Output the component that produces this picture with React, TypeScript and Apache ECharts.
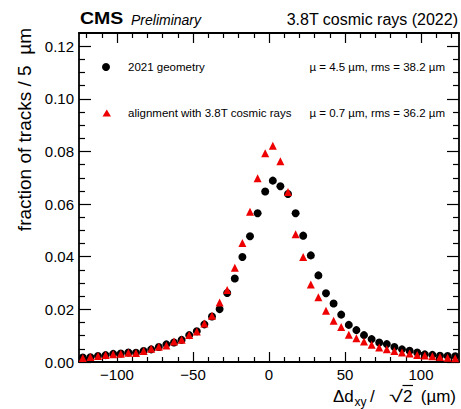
import React, { useEffect, useRef } from "react";
import * as echarts from "echarts";

const FONT = "'Liberation Sans', Arial, Helvetica, sans-serif";

// bin centres of Δd_xy/√2 (µm), 5 µm bins
const binCenters = [
  -122.5, -117.5, -112.5, -107.5, -102.5, -97.5, -92.5, -87.5, -82.5, -77.5,
  -72.5, -67.5, -62.5, -57.5, -52.5, -47.5, -42.5, -37.5, -32.5, -27.5,
  -22.5, -17.5, -12.5, -7.5, -2.5, 2.5, 7.5, 12.5, 17.5, 22.5,
  27.5, 32.5, 37.5, 42.5, 47.5, 52.5, 57.5, 62.5, 67.5, 72.5,
  77.5, 82.5, 87.5, 92.5, 97.5, 102.5, 107.5, 112.5, 117.5, 122.5,
];

// fraction of tracks, 2021 geometry (black circles)
const geometry2021 = [
  0.0017, 0.0018, 0.0023, 0.0026, 0.0031, 0.0032, 0.0036, 0.0035, 0.0042, 0.0048,
  0.0057, 0.0067, 0.0074, 0.0084, 0.0102, 0.0117, 0.0143, 0.0173, 0.0201, 0.0262,
  0.0317, 0.0399, 0.0478, 0.0565, 0.0648, 0.0689, 0.0668, 0.0638, 0.0565, 0.0480,
  0.0405, 0.0329, 0.0261, 0.0222, 0.0180, 0.0141, 0.0121, 0.0102, 0.0087, 0.0074,
  0.0068, 0.0057, 0.0048, 0.0043, 0.0036, 0.0029, 0.0027, 0.0024, 0.0023, 0.0022,
];

// fraction of tracks, alignment with 3.8T cosmic rays (red triangles)
const alignmentCosmics = [
  0.0015, 0.0019, 0.0023, 0.0027, 0.0029, 0.0031, 0.0035, 0.0034, 0.0042, 0.0050,
  0.0058, 0.0063, 0.0078, 0.0085, 0.0103, 0.0116, 0.0146, 0.0176, 0.0226, 0.0274,
  0.0358, 0.0452, 0.0571, 0.0698, 0.0793, 0.0822, 0.0763, 0.0646, 0.0485, 0.0399,
  0.0294, 0.0246, 0.0195, 0.0157, 0.0133, 0.0104, 0.0090, 0.0078, 0.0066, 0.0055,
  0.0048, 0.0042, 0.0036, 0.0032, 0.0027, 0.0025, 0.0022, 0.0019, 0.0016, 0.0014,
];

const seriesNames = ["2021 geometry", "alignment with 3.8T cosmic rays"];
const seriesStats = ["\u00b5 = 4.5 \u00b5m, rms = 38.2 \u00b5m", "\u00b5 = 0.7 \u00b5m, rms = 36.2 \u00b5m"];

const xMajorTicks = [-100, -50, 0, 50, 100];
const xMinorTicks = [-120, -110, -90, -80, -70, -60, -40, -30, -20, -10, 10, 20, 30, 40, 60, 70, 80, 90, 110, 120];
const yMajorTicks = [0, 0.02, 0.04, 0.06, 0.08, 0.1, 0.12];
const yMinorTicks = [
  0.005, 0.01, 0.015, 0.025, 0.03, 0.035, 0.045, 0.05, 0.055, 0.065, 0.07, 0.075,
  0.085, 0.09, 0.095, 0.105, 0.11, 0.115,
];

const X_MIN = -125;
const X_MAX = 125;
const Y_MIN = 0;
const Y_MAX = 0.125;

const GRID = { left: 79, right: 2, top: 33, bottom: 47 };

function xAxisDef(gridIndex: number, position: string, ticks: number[], len: number, labels: boolean, line: boolean) {
  return {
    type: "value",
    gridIndex,
    position,
    min: X_MIN,
    max: X_MAX,
    splitLine: { show: false },
    axisLine: { show: line, onZero: false, lineStyle: { color: "#000", width: 1.8 } },
    axisTick: { show: true, inside: true, length: len, customValues: ticks, lineStyle: { color: "#000", width: 1.2 } },
    minorTick: { show: false },
    axisLabel: labels
      ? {
          show: true,
          customValues: xMajorTicks,
          color: "#000",
          fontFamily: FONT,
          fontSize: 15,
          margin: 5,
          formatter: (v: number) => (v < 0 ? "\u2212" + Math.abs(v) : String(v)),
        }
      : { show: false },
  };
}

function yAxisDef(gridIndex: number, position: string, ticks: number[], len: number, labels: boolean, line: boolean) {
  return {
    type: "value",
    gridIndex,
    position,
    min: Y_MIN,
    max: Y_MAX,
    splitLine: { show: false },
    axisLine: { show: line, onZero: false, lineStyle: { color: "#000", width: 1.8 } },
    axisTick: { show: true, inside: true, length: len, customValues: ticks, lineStyle: { color: "#000", width: 1.2 } },
    minorTick: { show: false },
    axisLabel: labels
      ? {
          show: true,
          customValues: yMajorTicks,
          color: "#000",
          fontFamily: FONT,
          fontSize: 15,
          margin: 5,
          formatter: (v: number) => v.toFixed(2),
        }
      : { show: false },
  };
}

export default function App() {
  const ref = useRef<HTMLDivElement>(null);

  useEffect(() => {
    if (!ref.current) return;
    const chart = echarts.init(ref.current, null, { renderer: "svg" });

    const option: any = {
      animation: false,
      backgroundColor: "#fff",
      grid: [
        { ...GRID, containLabel: false },
        { ...GRID, containLabel: false },
      ],
      xAxis: [
        xAxisDef(0, "bottom", xMajorTicks, 10, true, true),
        xAxisDef(0, "top", xMajorTicks, 10, false, true),
        xAxisDef(1, "bottom", xMinorTicks, 5, false, false),
        xAxisDef(1, "top", xMinorTicks, 5, false, false),
      ],
      yAxis: [
        yAxisDef(0, "left", yMajorTicks, 12, true, true),
        yAxisDef(0, "right", yMajorTicks, 12, false, true),
        yAxisDef(1, "left", yMinorTicks, 6, false, false),
        yAxisDef(1, "right", yMinorTicks, 6, false, false),
      ],
      series: [
        {
          name: seriesNames[0],
          type: "scatter",
          xAxisIndex: 0,
          yAxisIndex: 0,
          symbol: "circle",
          symbolSize: 8,
          itemStyle: { color: "#000", opacity: 1 },
          data: binCenters.map((x, i) => [x, geometry2021[i]]),
          z: 3,
        },
        {
          name: seriesNames[1],
          type: "scatter",
          xAxisIndex: 0,
          yAxisIndex: 0,
          symbol: "triangle",
          symbolSize: 8,
          itemStyle: { color: "#ee0000", opacity: 1 },
          data: binCenters.map((x, i) => [x, alignmentCosmics[i]]),
          z: 4,
        },
      ],
      graphic: [
        {
          type: "text",
          x: 80,
          y: 19,
          scaleX: 1.22,
          style: { text: "CMS", font: `bold 16px ${FONT}`, fill: "#000", verticalAlign: "middle" },
        },
        {
          type: "text",
          x: 131,
          y: 19.5,
          style: { text: "Preliminary", font: `italic 14px ${FONT}`, fill: "#000", verticalAlign: "middle" },
        },
        {
          type: "text",
          x: 458,
          y: 19,
          style: { text: "3.8T cosmic rays (2022)", font: `16px ${FONT}`, fill: "#000", align: "right", verticalAlign: "middle" },
        },
        {
          type: "text",
          x: 24.5,
          y: 28,
          rotation: Math.PI / 2,
          style: {
            text: "fraction of tracks / 5  \u00b5m",
            font: `19px ${FONT}`,
            fill: "#000",
            align: "right",
            verticalAlign: "middle",
          },
        },
        // x-axis title: Δd_xy / √2 (µm)
        {
          type: "text",
          x: 333,
          y: 396,
          style: { text: "\u0394d", font: `17px ${FONT}`, fill: "#000", verticalAlign: "middle" },
        },
        {
          type: "text",
          x: 354.5,
          y: 402,
          style: { text: "xy", font: `12px ${FONT}`, fill: "#000", verticalAlign: "middle" },
        },
        {
          type: "text",
          x: 370,
          y: 396,
          style: { text: "/", font: `17px ${FONT}`, fill: "#000", verticalAlign: "middle" },
        },
        {
          type: "text",
          x: 403,
          y: 396,
          scaleX: 1.5,
          style: { text: "\u221a", font: `17px ${FONT}`, fill: "#000", align: "right", verticalAlign: "middle" },
        },
        {
          type: "text",
          x: 403,
          y: 396,
          style: { text: "2", font: `17px ${FONT}`, fill: "#000", verticalAlign: "middle" },
        },
        {
          type: "line",
          shape: { x1: 402.5, y1: 385.5, x2: 413, y2: 385.5 },
          style: { stroke: "#000", lineWidth: 1.2 },
        },
        {
          type: "text",
          x: 456,
          y: 396,
          style: { text: "(\u00b5m)", font: `17px ${FONT}`, fill: "#000", align: "right", verticalAlign: "middle" },
        },
        // legend
        { type: "circle", shape: { cx: 106, cy: 67, r: 4 }, style: { fill: "#000" } },
        {
          type: "polygon",
          shape: { points: [[102.5, 116.5], [111, 116.5], [106.75, 109.5]] },
          style: { fill: "#ee0000" },
        },
        {
          type: "text",
          x: 128,
          y: 67,
          style: { text: seriesNames[0], font: `11.5px ${FONT}`, fill: "#000", verticalAlign: "middle" },
        },
        {
          type: "text",
          x: 128,
          y: 113,
          style: { text: seriesNames[1], font: `11.5px ${FONT}`, fill: "#000", verticalAlign: "middle" },
        },
        {
          type: "text",
          x: 445,
          y: 67,
          style: { text: seriesStats[0], font: `11.5px ${FONT}`, fill: "#000", align: "right", verticalAlign: "middle" },
        },
        {
          type: "text",
          x: 445,
          y: 113,
          style: { text: seriesStats[1], font: `11.5px ${FONT}`, fill: "#000", align: "right", verticalAlign: "middle" },
        },
      ],
    };

    chart.setOption(option);
    return () => chart.dispose();
  }, []);

  return <div ref={ref} style={{ width: 461, height: 409, position: "absolute", left: 0, top: 0 }} />;
}
